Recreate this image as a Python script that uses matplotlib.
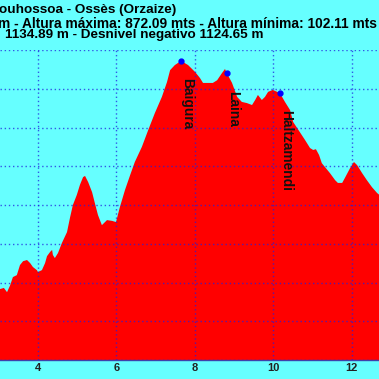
import matplotlib
matplotlib.use("Agg")
import matplotlib.pyplot as plt

# Distance (km) and elevation (m) of the profile
dist_km = [2.90, 3.03, 3.13, 3.21, 3.29, 3.36, 3.46, 3.54, 3.62, 3.72, 3.80, 3.87, 3.97, 4.00,
           4.10, 4.18, 4.23, 4.31, 4.36, 4.38, 4.43, 4.51, 4.61, 4.74, 4.82, 4.89, 4.99, 5.07,
           5.15, 5.20, 5.28, 5.38, 5.45, 5.53, 5.63, 5.76, 5.89, 5.99, 6.09, 6.22, 6.35, 6.47,
           6.65, 6.81, 6.98, 7.16, 7.29, 7.37, 7.49, 7.65, 7.83, 8.01, 8.13, 8.21, 8.34, 8.46,
           8.57, 8.69, 8.77, 8.82, 8.95, 9.08, 9.20, 9.33, 9.46, 9.54, 9.61, 9.71, 9.79, 9.87,
           9.99, 10.10, 10.17, 10.30, 10.43, 10.51, 10.68, 10.81, 10.94, 11.02, 11.09, 11.17,
           11.24, 11.32, 11.45, 11.58, 11.65, 11.76, 11.83, 11.96, 12.06, 12.14, 12.27, 12.39,
           12.52, 12.65, 12.80]
elev_m = [285, 283, 286, 275, 293, 314, 319, 345, 355, 358, 350, 340, 332, 327,
          332, 350, 368, 379, 384, 371, 363, 376, 402, 430, 469, 500, 526, 552,
          572, 575, 559, 533, 505, 474, 448, 461, 459, 456, 495, 539, 577, 611,
          650, 693, 737, 779, 817, 848, 861, 872, 861, 843, 828, 815, 815, 815,
          822, 840, 851, 840, 815, 779, 766, 763, 758, 771, 784, 771, 779, 792,
          797, 792, 789, 766, 745, 714, 688, 668, 647, 642, 644, 629,
          608, 598, 582, 564, 557, 557, 570, 595, 611, 603, 582, 564,
          546, 531, 518]

# Waypoints
wp_names = ["Baigura", "Laina", "Haltzamendi"]
wp_km = [7.65, 8.82, 10.17]
wp_elev = [872, 840, 789]

x_ticks = [4, 6, 8, 10, 12]
title_lines = ["ouhossoa - Ossès (Orzaize)",
               "m - Altura máxima: 872.09 mts - Altura mínima: 102.11 mts",
               "1134.89 m - Desnivel negativo 1124.65 m"]

BG = "#66FFFF"
W = H = 379
fig = plt.figure(figsize=(3.79, 3.79), dpi=100, facecolor=BG)
plt.rcParams['font.family'] = ['Liberation Sans', 'DejaVu Sans']

bottom_px, top_px = 360, 50
ax = fig.add_axes([0, (H - bottom_px) / H, 1, (bottom_px - top_px) / H])
ax.set_facecolor(BG)
x0 = 4 - 38 / 39.2
x1 = 4 + (379 - 38) / 39.2
ax.set_xlim(x0, x1)
ax.set_ylim(100, 900)

ax.fill_between(dist_km, elev_m, 0, color="#FF0000", linewidth=0, zorder=1)

ax.set_xticks(x_ticks)
ax.set_xticklabels([str(t) for t in x_ticks], fontsize=8, fontweight='bold', color='#222222')
ax.set_yticks(range(100, 901, 100))
ax.tick_params(axis='x', length=0, pad=2.5)
ax.tick_params(axis='y', length=0, labelleft=False)
ax.grid(True, color='#2020DD', linestyle=(0, (1, 2)), linewidth=1, alpha=0.75, zorder=2)
ax.set_axisbelow(False)
for s in ['left', 'right', 'top']:
    ax.spines[s].set_visible(False)
ax.spines['bottom'].set_color('#4040AA')
ax.spines['bottom'].set_linewidth(1)

ax.plot(wp_km, wp_elev, 'o', color='#0000FF', markersize=3.5, zorder=4)
for name, k, e in zip(wp_names, wp_km, wp_elev):
    ax.annotate(name, xy=(k, e), xytext=(-0.7, -12.5), textcoords='offset points',
                rotation=270, ha='left', va='top', fontsize=9.9, fontweight='bold',
                color='#111111', zorder=5)

baselines = [13.0, 27.5, 38.3]
xs = [-1, -2, 5]
sizes = [9.7, 9.95, 9.7]
for t, b, xp, fs in zip(title_lines, baselines, xs, sizes):
    fig.text(xp / W, 1 - b / H, t, ha='left', va='baseline', fontsize=fs,
             fontweight='bold', color='#000000')

fig.savefig("out.png", dpi=100, facecolor=BG)
